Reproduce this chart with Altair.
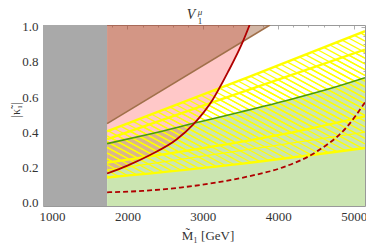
import altair as alt
import numpy as np
import pandas as pd

X_DOMAIN = [880, 5150]
Y_DOMAIN = [-0.02, 1.01]
M_CUT = 1730

x_ticks = [1000, 2000, 3000, 4000, 5000]
y_ticks = [0.0, 0.2, 0.4, 0.6, 0.8, 1.0]
x_minor = [v for v in range(1000, 5200, 200) if v % 1000]
y_minor = [round(v * 0.05, 2) for v in range(0, 21) if v % 4]

green_x = [1730, 2300, 2920, 3500, 4150, 4700, 5150]
green_y = [0.335, 0.39, 0.455, 0.515, 0.585, 0.65, 0.71]

red_x = [1730, 2000, 2300, 2650, 2870, 3130, 3330, 3530, 3620]
red_y = [0.165, 0.21, 0.27, 0.358, 0.443, 0.585, 0.74, 0.915, 1.01]

dash_x = [1730, 2200, 2700, 3200, 3600, 4060, 4510, 4910, 5150]
dash_y = [0.058, 0.066, 0.085, 0.115, 0.148, 0.2, 0.29, 0.43, 0.57]

brown_x = [1730, 3890]
brown_y = [0.449, 1.01]

ya_x = [1730, 3620, 5150]
ya_y = [0.405, 0.716, 0.975]
yb_x = [1730, 3230, 5150]
yb_y = [0.36, 0.585, 0.87]
yc_x = [1730, 4250, 5150]
yc_y = [0.227, 0.405, 0.49]
yd_x = [1730, 3500, 5150]
yd_y = [0.142, 0.22, 0.31]
ye_x = [1730, 3500, 5150]
ye_y = [0.185, 0.295, 0.40]

TITLE_MAIN = "Ṽ"
TITLE_SUP = "μ"
TITLE_SUB = "1"
X_TITLE = "M̃₁ [GeV]"
Y_TITLE = "|κ̃₁|"

FONT = "Liberation Serif"

xs_ = alt.Scale(domain=X_DOMAIN, nice=False, zero=False)
ys_ = alt.Scale(domain=Y_DOMAIN, nice=False, zero=False)


def X(field, axis=None):
    return alt.X(field, type="quantitative", scale=xs_, axis=axis)


def Y(field, axis=None):
    return alt.Y(field, type="quantitative", scale=ys_, axis=axis)


def hatch(tx, ty, bx, by, k, step, phase):
    xs = np.linspace(M_CUT, X_DOMAIN[1], 4000)
    T = np.interp(xs, tx, ty)
    B = np.interp(xs, bx, by)
    uT = xs + k * T
    uB = xs + k * B
    rows = []
    c = np.floor(uB.min() / step) * step + phase
    while c <= uT.max():
        if uB[0] <= c <= uT[-1]:
            x0 = xs[0] if c <= uT[0] else float(np.interp(c, uT, xs))
            x1 = float(np.interp(c, uB, xs)) if c <= uB[-1] else xs[-1]
            if x1 > x0:
                rows.append({"x": x0, "y": (c - x0) / k, "x2": x1, "y2": (c - x1) / k})
        c += step
    return pd.DataFrame(rows)


K = 4300
STEP = 140

h1 = hatch(ya_x, ya_y, yc_x, yc_y, K, STEP, 0)
h2 = hatch(yb_x, yb_y, yd_x, yd_y, K, STEP, 0)

gray_df = pd.DataFrame({"x": [X_DOMAIN[0]], "x2": [M_CUT], "y": [Y_DOMAIN[0]], "y2": [Y_DOMAIN[1]]})
green_df = pd.DataFrame({"x": green_x, "y": green_y, "b": Y_DOMAIN[0]})
red_df = pd.DataFrame({"x": red_x, "y": red_y, "t": Y_DOMAIN[1]})
dash_df = pd.DataFrame({"x": dash_x, "y": dash_y})
brown_df = pd.DataFrame({"x": brown_x, "y": brown_y, "t": Y_DOMAIN[1]})

label_x_axis = alt.Axis(values=x_ticks, ticks=False, domain=False, grid=False, title=None,
                        labelFont=FONT, labelFontSize=13, labelColor="#333333", labelPadding=4,
                        format="d")
label_y_axis = alt.Axis(values=y_ticks, ticks=False, domain=False, grid=False, title=None,
                        labelFont=FONT, labelFontSize=13, labelColor="#333333", labelPadding=5,
                        format=".1f")

gray = alt.Chart(gray_df).mark_rect(color="#a9a9a9").encode(
    x=X("x", label_x_axis), x2="x2", y=Y("y", label_y_axis), y2="y2")

green_area = alt.Chart(green_df).mark_area(color="#cbe5b1", interpolate="monotone", clip=True).encode(
    x=X("x"), y=Y("y"), y2="b")

pink_area = alt.Chart(red_df).mark_area(color="#ff3333", opacity=0.27, interpolate="monotone", clip=True).encode(
    x=X("x"), y=Y("y"), y2="t")

brown_area = alt.Chart(brown_df).mark_area(color="#965028", opacity=0.42, clip=True).encode(
    x=X("x"), y=Y("y"), y2="t")


def hatch_layer(df):
    return alt.Chart(df).mark_rule(color="#ffff00", strokeWidth=1.3, clip=True).encode(
        x=X("x"), y=Y("y"), x2="x2", y2="y2")


def yline(xv, yv, w=2.4):
    return alt.Chart(pd.DataFrame({"x": xv, "y": yv})).mark_line(
        color="#ffff00", strokeWidth=w, interpolate="monotone", clip=True).encode(x=X("x"), y=Y("y"))


green_line = alt.Chart(green_df).mark_line(color="#4a9a0c", strokeWidth=1.6, interpolate="monotone", clip=True).encode(
    x=X("x"), y=Y("y"))
red_line = alt.Chart(red_df).mark_line(color="#b00000", strokeWidth=1.8, interpolate="monotone", clip=True).encode(
    x=X("x"), y=Y("y"))
dash_line = alt.Chart(dash_df).mark_line(color="#b00000", strokeWidth=1.8, strokeDash=[5, 3],
                                         interpolate="monotone", clip=True).encode(x=X("x"), y=Y("y"))
brown_line = alt.Chart(brown_df).mark_line(color="#a0704a", strokeWidth=1.6, clip=True).encode(
    x=X("x"), y=Y("y"))

dummy = pd.DataFrame({"x": [3000], "y": [0.5]})


def tick_layer(xorient, yorient, xvals, yvals, size):
    ax = alt.Axis(orient=xorient, values=xvals, labels=False, domain=False, grid=False, title=None,
                  tickSize=size, tickColor="#999999", tickWidth=0.8, offset=-size)
    ay = alt.Axis(orient=yorient, values=yvals, labels=False, domain=False, grid=False, title=None,
                  tickSize=size, tickColor="#999999", tickWidth=0.8, offset=-size)
    return alt.Chart(dummy).mark_point(opacity=0).encode(x=X("x", ax), y=Y("y", ay))


ticks = [
    tick_layer("bottom", "left", x_ticks, y_ticks, 4),
    tick_layer("bottom", "left", x_minor, y_minor, 2),
    tick_layer("top", "right", x_ticks, y_ticks, 4),
    tick_layer("top", "right", x_minor, y_minor, 2),
]


def txt(s, x, y, size, angle=0, baseline="middle", align="center", style="normal"):
    return alt.Chart(pd.DataFrame({"t": [s]})).mark_text(
        font=FONT, fontSize=size, color="#333333", angle=angle, baseline=baseline, align=align,
        fontStyle=style).encode(text="t:N", x=alt.value(x), y=alt.value(y))


texts = [
    txt(TITLE_MAIN, 148, -10, 14, style="italic"),
    txt(TITLE_SUP, 157, -13, 9, style="italic"),
    txt(TITLE_SUB, 157, -4, 9),
    txt(X_TITLE, 165, 211, 13),
    txt(Y_TITLE, -27, 85, 12, angle=270),
]

chart = alt.layer(
    gray, green_area, pink_area, brown_area,
    hatch_layer(h1), hatch_layer(h2),
    yline(ye_x, ye_y, 1.2),
    yline(ya_x, ya_y), yline(yb_x, yb_y), yline(yc_x, yc_y), yline(yd_x, yd_y),
    brown_line, green_line, red_line, dash_line,
    *ticks, *texts,
).resolve_axis(x="independent", y="independent").properties(
    width=322, height=181,
    autosize=alt.AutoSizeParams(type="none"),
    padding={"left": 35, "top": 17, "right": 1, "bottom": 40},
).configure_view(stroke="#999999", strokeWidth=1)

chart.save("out.html", embed_options={"renderer": "svg", "actions": False})
